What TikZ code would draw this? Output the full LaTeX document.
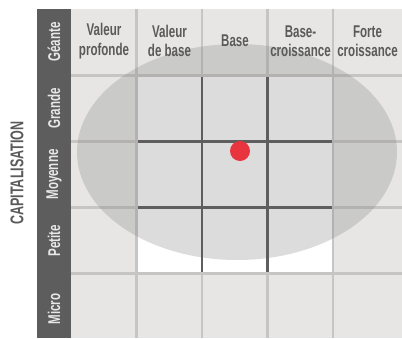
\documentclass[tikz,border=0pt]{standalone}
\usepackage{fontspec}
\setmainfont[FakeStretch=0.68]{Liberation Sans}
\definecolor{cellbg}{RGB}{231,230,229}
\definecolor{lightline}{RGB}{198,197,196}
\definecolor{darkline}{RGB}{94,94,94}
\definecolor{barcol}{RGB}{92,93,92}
\definecolor{txtcol}{RGB}{90,90,90}
\definecolor{barTxt}{RGB}{232,232,232}
\definecolor{ellcol}{RGB}{130,130,130}
\definecolor{dotred}{RGB}{232,52,63}
\tikzset{
  lightrule/.style={draw=lightline, line width=2.6pt},
  darkrule/.style={draw=darkline, line width=2.6pt},
  header/.style={text=txtcol, align=center, inner sep=0pt,
    font=\fontsize{17}{19.5}\selectfont\bfseries},
  sizelabel/.style={text=barTxt, rotate=90, inner sep=0pt,
    font=\fontsize{17}{19.5}\selectfont\bfseries},
  axislabel/.style={text=txtcol, rotate=90, inner sep=0pt,
    font=\fontsize{18.5}{21}\selectfont\bfseries}
}
\begin{document}
\begin{tikzpicture}[x=1pt,y=-1pt]
\useasboundingbox (0,0) rectangle (402,338);
% cells background
\fill[cellbg] (71,8.5) rectangle (402,338);
\fill[white] (136.5,75.5) rectangle (333,273.5);
% light grid lines
\foreach \x in {136.5,202,267.5,333}
  \draw[lightrule] (\x,8.5) -- (\x,338);
\foreach \y in {75.5,141.5,207.5,273.5}
  \draw[lightrule] (71,\y) -- (402,\y);
% left bar
\fill[barcol] (37,8.5) rectangle (71,338);
% ellipse
\fill[ellcol, opacity=0.28] (237,152) ellipse [x radius=160pt, y radius=108pt];
% dark style-box lines
\foreach \x in {202,267.5}
  \draw[darkrule] (\x,76.8) -- (\x,272.2);
\foreach \y in {141.5,207.5}
  \draw[darkrule] (137.8,\y) -- (331.7,\y);
% red dot
\fill[dotred] (240,151) circle [radius=10pt];
% headers
\node[header] (h1) at (104,41) {Valeur\\profonde};
\node[header] (h2) at (169.5,41) {Valeur\\de base};
\node[header] (h3) at (235,41) {Base};
\node[header] (h4) at (300.5,41) {Base-\\croissance};
\node[header] (h5) at (367.5,41) {Forte\\croissance};
% size labels
\node[sizelabel] (s1) at (54,42) {Géante};
\node[sizelabel] (s2) at (54,108.5) {Grande};
\node[sizelabel] (s3) at (54,174.5) {Moyenne};
\node[sizelabel] (s4) at (54,240.5) {Petite};
\node[sizelabel] (s5) at (54,309) {Micro};
% axis label
\node[axislabel] (cap) at (17,173) {CAPITALISATION};
\end{tikzpicture}
\end{document}
